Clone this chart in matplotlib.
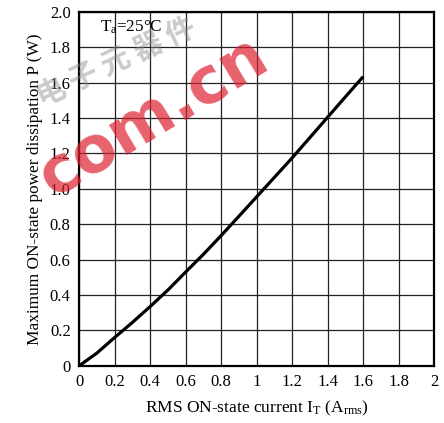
import numpy as np
import matplotlib
matplotlib.use("Agg")
import matplotlib.pyplot as plt

# RMS on-state current (A) vs. maximum on-state power dissipation (W)
current = [0.0, 0.1, 0.2, 0.3, 0.4, 0.5, 0.6, 0.7, 0.8, 0.9,
           1.0, 1.1, 1.2, 1.3, 1.4, 1.5, 1.6]
power = [0.0, 0.072, 0.16, 0.245, 0.335, 0.428, 0.53, 0.63, 0.736, 0.845,
         0.955, 1.065, 1.175, 1.29, 1.405, 1.52, 1.634]

x_ticks = [0, 0.2, 0.4, 0.6, 0.8, 1, 1.2, 1.4, 1.6, 1.8, 2]
x_labels = ["0", "0.2", "0.4", "0.6", "0.8", "1", "1.2", "1.4", "1.6", "1.8", "2"]
y_ticks = [0, 0.2, 0.4, 0.6, 0.8, 1.0, 1.2, 1.4, 1.6, 1.8, 2.0]
y_labels = ["0", "0.2", "0.4", "0.6", "0.8", "1.0", "1.2", "1.4", "1.6", "1.8", "2.0"]

plt.rcParams['font.family'] = ['Liberation Serif', 'DejaVu Serif']
plt.rcParams['mathtext.fontset'] = 'custom'
plt.rcParams['mathtext.rm'] = 'Liberation Serif'
plt.rcParams['mathtext.it'] = 'Liberation Serif'

fig = plt.figure(figsize=(4.44, 4.23), dpi=100)
ax = fig.add_axes([0.178, 0.135, 0.8, 0.837])

ax.plot(current, power, color='black', lw=2.3, solid_capstyle='butt',
        solid_joinstyle='round', zorder=3)

ax.set_xlim(0, 2)
ax.set_ylim(0, 2)
ax.set_xticks(x_ticks)
ax.set_xticklabels(x_labels)
ax.set_yticks(y_ticks)
ax.set_yticklabels(y_labels)
ax.tick_params(length=0, labelsize=12, pad=6)
ax.grid(True, color='#222222', lw=0.9)
for sp in ax.spines.values():
    sp.set_linewidth(1.6)

ax.set_xlabel(r"RMS ON-state current I$_\mathrm{T}$ (A$_\mathrm{rms}$)", fontsize=12.5, labelpad=6)
ax.set_ylabel("Maximum ON-state power dissipation P (W)", fontsize=12.4, labelpad=5)
ax.text(0.12, 1.91, r"T$_\mathrm{a}$=25°C", fontsize=12.3, va='center')

# site watermark
fig.text(0.26, 0.855, "电 子 元 器 件", family=['Noto Sans CJK SC'], fontsize=21,
         color='#8a8a8a', alpha=0.45, rotation=25, fontweight='bold',
         ha='center', va='center', zorder=0)
fig.text(0.345, 0.725, "com.cn", family=['DejaVu Sans'], fontsize=46, fontweight='bold',
         color='#dd2030', alpha=0.7, rotation=31, ha='center', va='center', zorder=5)

fig.savefig("out.png", dpi=100)
